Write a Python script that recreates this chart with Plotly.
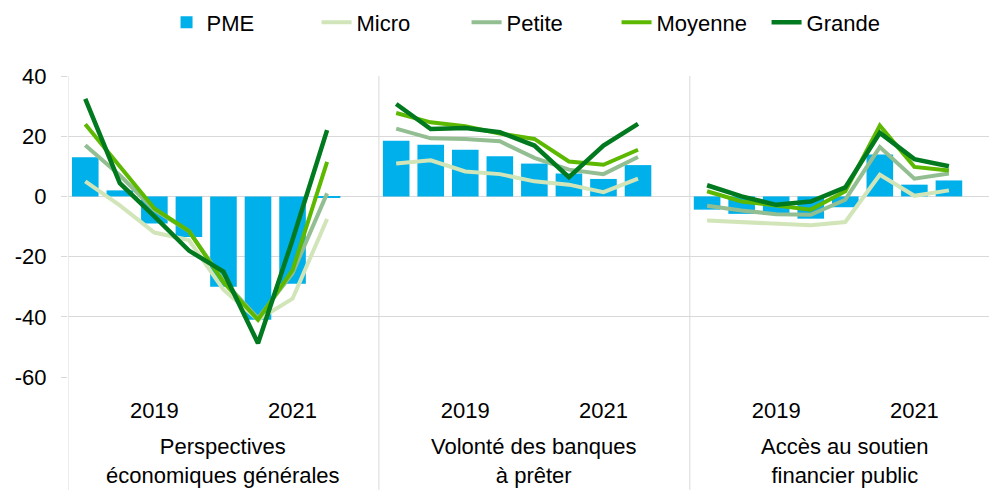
import plotly.graph_objects as go

# ---- data -------------------------------------------------------------
panels = ["Perspectives<br>économiques générales",
          "Volonté des banques<br>à prêter",
          "Accès au soutien<br>financier public"]
year_labels = ["2019", "2021"]
year_slots = [2, 6]          # period index inside each panel where the year label sits

pme_persp = [13, 2, -9, -13.5, -30, -41, -29, -0.5]
pme_banks = [18.5, 17.2, 15.5, 13.3, 10.9, 7.6, 5.8, 10.4]
pme_public = [-4.4, -5.8, -6.1, -7.4, -3.6, 13.9, 3.9, 5.3]

micro_persp = [5, -3, -12, -14.5, -31, -41, -34, -7.5]
micro_banks = [10.9, 12, 8.3, 7.4, 5, 3.9, 1.4, 5.9]
micro_public = [-8, -8.6, -9.2, -9.6, -8.5, 7.2, 0.2, 2]

petite_persp = [17, 7, -4.5, -11.5, -28, -40.5, -25.5, 1]
petite_banks = [22.5, 19.3, 19.1, 18.3, 12.8, 8.9, 7.4, 13.1]
petite_public = [-3.1, -4.7, -5.9, -6.1, -1.1, 16.4, 5.9, 7.6]

moyenne_persp = [24, 10, -4, -11.5, -28.5, -41, -24.5, 11.5]
moyenne_banks = [27.7, 24.6, 23.3, 20.9, 19.1, 11.6, 10.5, 15.5]
moyenne_public = [1.7, -1.7, -3, -4.4, 1.7, 23.5, 9.8, 8.6]

grande_persp = [32.4, 4.4, -6.6, -18, -25, -48.8, -14.4, 22]
grande_banks = [30.7, 22.4, 22.7, 21.3, 16.9, 6.4, 16.9, 24.1]
grande_public = [3.7, 0, -2.8, -1.7, 3, 21.1, 12.4, 10]

y_ticks = [40, 20, 0, -20, -40, -60]
y_tick_text = ["40", "20", "0", "-20", "-40", "-60"]

# ---- layout helpers ----------------------------------------------------
slots_per_panel = 9          # 8 periods + one empty gap slot
offsets = [i * slots_per_panel for i in range(len(panels))]

def xs_ys(series_list):
    xs, ys = [], []
    for off, vals in zip(offsets, series_list):
        xs += [off + i for i in range(len(vals))] + [None]
        ys += list(vals) + [None]
    return xs, ys

FONT = "Liberation Sans, Arial, sans-serif"
GRID = "#d9d9d9"

fig = go.Figure()

bx, by = xs_ys([pme_persp, pme_banks, pme_public])
fig.add_trace(go.Bar(x=bx, y=by, name="PME", marker=dict(color="#00B0EA", line=dict(width=0)),
                     width=0.77))

line_series = [
    ("Micro", [micro_persp, micro_banks, micro_public], "#D1E5B9", 4),
    ("Petite", [petite_persp, petite_banks, petite_public], "#92BE92", 4),
    ("Moyenne", [moyenne_persp, moyenne_banks, moyenne_public], "#5DB800", 4),
    ("Grande", [grande_persp, grande_banks, grande_public], "#00791F", 4.5),
]
for name, data, col, w in line_series:
    x, y = xs_ys(data)
    fig.add_trace(go.Scatter(x=x, y=y, name=name, mode="lines",
                             line=dict(color=col, width=w), connectgaps=False))

tickvals, ticktext = [], []
for off in offsets:
    for s, t in zip(year_slots, year_labels):
        tickvals.append(off + s)
        ticktext.append(t)

shapes = []
for k in range(len(panels)):
    xpos = offsets[k] - 0.5
    shapes.append(dict(type="line", xref="x", yref="paper", x0=xpos, x1=xpos,
                       y0=-0.375, y1=1, line=dict(color=GRID, width=1), layer="below"))

annotations = []
for off, lab in zip(offsets, panels):
    annotations.append(dict(x=off + 4, y=-0.278, xref="x", yref="paper", text=lab,
                            showarrow=False, xanchor="center", yanchor="middle",
                            font=dict(size=22, color="#000000", family=FONT)))

fig.update_layout(
    width=989, height=490,
    margin=dict(l=68, r=0, t=76, b=113),
    paper_bgcolor="white", plot_bgcolor="white",
    font=dict(family=FONT, size=22, color="#000000"),
    barmode="overlay",
    showlegend=True,
    legend=dict(orientation="h", x=0.107, xanchor="left", y=1.248, yanchor="top",
                font=dict(size=22, family=FONT, color="#000000"),
                entrywidth=105, entrywidthmode="pixels", traceorder="normal",
                bgcolor="rgba(0,0,0,0)"),
    shapes=shapes,
    annotations=annotations,
    xaxis=dict(range=[-0.5, 26.16], tickmode="array", tickvals=tickvals, ticktext=ticktext,
               showgrid=False, zeroline=False, showline=False, ticks="",
               ticklabelstandoff=18, tickfont=dict(size=22, family=FONT, color="#000000")),
    yaxis=dict(range=[-60, 40], tickmode="array", tickvals=y_ticks, ticktext=y_tick_text,
               showgrid=True, gridcolor=GRID, gridwidth=1,
               zeroline=True, zerolinecolor=GRID, zerolinewidth=1,
               showline=False, ticks="outside", ticklen=6, tickcolor=GRID,
               ticklabelstandoff=10, tickfont=dict(size=22, family=FONT, color="#000000")),
)

fig.write_html("out.html")
